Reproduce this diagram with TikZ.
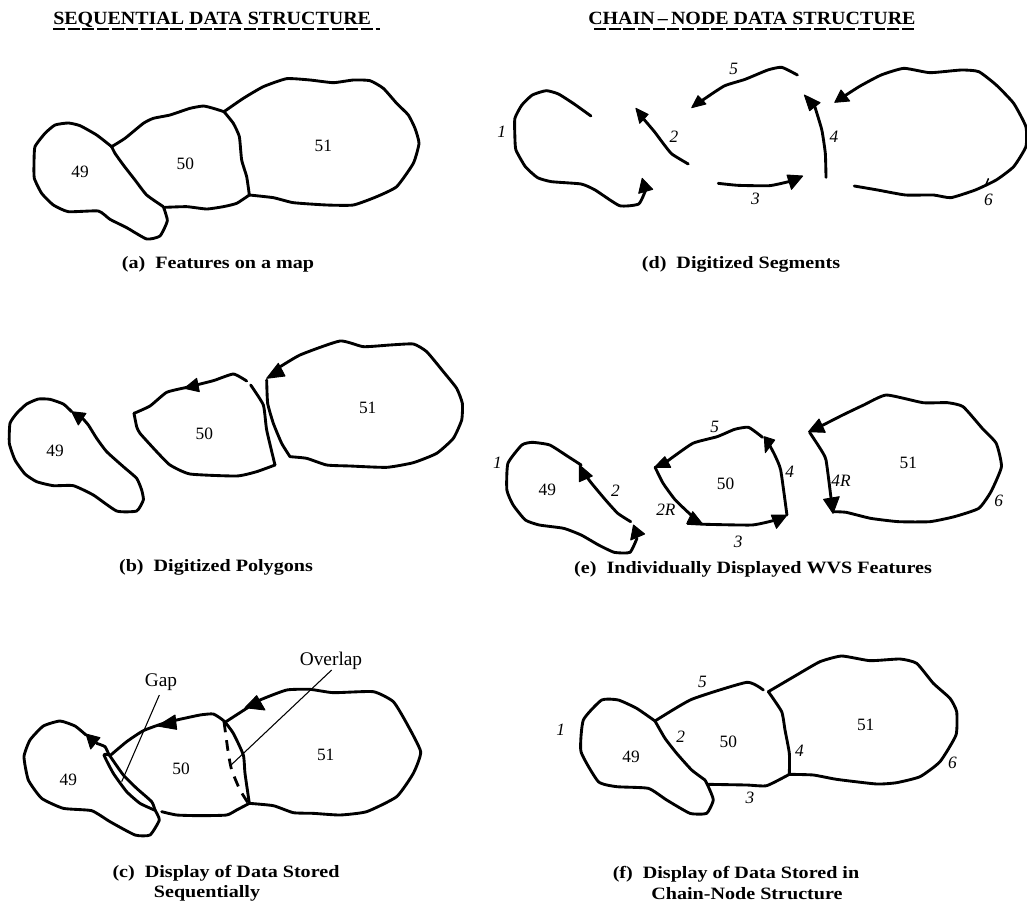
\documentclass[tikz,border=0pt]{standalone}
\usepackage{fontspec}
\setmainfont{Liberation Serif}
\newfontfamily\capfont[FakeStretch=1.16]{Liberation Serif}
\newfontfamily\headfont[FakeStretch=1.07]{Liberation Serif}
\tikzset{
  outline/.style={draw=black,line width=2.15pt,line join=round,line cap=round},
  thinlead/.style={draw=black,line width=0.8pt},
  overlapdash/.style={draw=black,line width=2.1pt,dash pattern=on 8pt off 6pt},
  num/.style={font=\fontsize{13}{14}\selectfont,inner sep=0pt},
  seg/.style={font=\fontsize{13}{14}\selectfont\itshape,inner sep=0pt},
  callout/.style={font=\fontsize{14.5}{15}\selectfont,inner sep=0pt},
  captxt/.style={font=\capfont\bfseries\fontsize{13}{14}\selectfont,inner sep=0pt},
  headtxt/.style={font=\headfont\bfseries\fontsize{14}{15}\selectfont,inner sep=0pt,anchor=base west}
}
\newcommand{\ol}[1]{\draw[outline] plot[smooth,tension=0.3] coordinates {#1};}
\newcommand{\head}[3]{\filldraw[black,line width=0.7pt,line join=round] #1 -- #2 -- #3 -- cycle;}
\begin{document}
\begin{tikzpicture}[x=0.75pt,y=-0.75pt]
\useasboundingbox (0,0) rectangle (1027,903);
% headings
\node[headtxt] (hl) at (53,24) {SEQUENTIAL DATA STRUCTURE};
\node[headtxt] (hr) at (588,24) {CHAIN\,–\,NODE DATA STRUCTURE};
\draw[line width=1.2pt,dash pattern=on 9pt off 2pt] (53,29) -- (380,29);
\draw[line width=1.2pt,dash pattern=on 9pt off 2pt] (594,29) -- (916,29);
% captions
\node[captxt] (ca) at (218,264) {(a)\ \ Features on a map};
\node[captxt] (cb) at (216,567) {(b)\ \ Digitized Polygons};
\node[captxt] (cc1) at (226,873) {(c)\ \ Display of Data Stored};
\node[captxt] (cc2) at (207,893) {Sequentially};
\node[captxt] (cd) at (741,264) {(d)\ \ Digitized Segments};
\node[captxt] (ce) at (753,569) {(e)\ \ Individually Displayed WVS Features};
\node[captxt] (cf1) at (736,874) {(f)\ \ Display of Data Stored in};
\node[captxt] (cf2) at (747,894) {Chain-Node Structure};

% (a)
\begin{scope}[shift={(0,30)},x=0.25pt,y=-0.25pt]
\ol{(335,350)(290,315)(240,287)(205,279)(165,285)(135,310)(105,350)(102,400)(103,445)(125,490)(160,525)(205,545)(295,543)(330,568)(380,593)(440,627)(480,618)(502,572)(490,530)}
\ol{(490,530)(440,495)(405,450)(370,405)(345,370)(335,350)}
\ol{(335,350)(375,325)(430,280)(460,265)(510,255)(570,235)(610,228)(640,235)(672,245)}
\ol{(672,245)(730,205)(790,170)(860,146)(930,150)(1000,158)(1060,150)(1110,152)(1150,175)(1190,220)(1225,255)(1245,295)(1257,340)(1240,400)(1190,470)(1130,500)(1060,525)(980,525)(880,518)(820,503)(748,495)}
\ol{(672,245)(700,280)(718,320)(725,390)(740,440)(748,495)}
\ol{(748,495)(710,520)(670,530)(620,537)(560,530)(495,532)}
\node[num] (a49) at (240,427) {49};
\node[num] (a50) at (556,402) {50};
\node[num] (a51) at (970,348) {51};
\end{scope}

% (b)
\begin{scope}[shift={(0,330)},x=0.25pt,y=-0.25pt]
\ol{(215,245)(190,222)(150,208)(115,207)(80,222)(50,250)(30,280)(28,340)(45,390)(75,432)(110,455)(160,467)(220,467)(280,495)(350,543)(410,543)(430,510)(425,480)(410,445)(370,410)(320,365)(290,325)(265,285)(245,262)}
\head{(215,245)}{(258,250)}{(235,285)}
\ol{(402,250)(450,228)(500,187)(560,172)(640,152)(700,132)(740,153)}
\ol{(752,165)(790,225)(800,300)(825,405)}
\ol{(825,405)(770,425)(710,438)(570,432)(510,405)(470,365)(420,310)(410,290)(402,250)}
\head{(553,175)}{(590,145)}{(598,185)}
\ol{(870,380)(845,340)(820,280)(803,220)(800,150)}
\ol{(825,120)(900,75)(1020,33)(1090,50)(1170,45)(1240,42)(1280,65)(1330,125)(1370,175)(1387,220)(1385,270)(1360,325)(1310,370)(1240,398)(1160,412)(1050,408)(980,405)(920,385)(870,380)}
\head{(800,145)}{(835,100)}{(855,138)}
\node[num] (b49) at (165,362) {49};
\node[num] (b50) at (613,310) {50};
\node[num] (b51) at (1103,235) {51};
\end{scope}

% (c)
\begin{scope}[shift={(0,640)},x=0.25pt,y=-0.25pt]
\ol{(258,285)(225,258)(180,243)(130,258)(90,300)(72,350)(85,420)(125,475)(190,505)(275,512)(330,545)(405,585)(450,585)(478,540)(465,510)}
\ol{(290,310)(315,320)(328,345)(370,405)(410,445)(455,485)(465,510)}
\ol{(328,345)(312,345)(340,400)(380,455)(420,490)(463,510)}
\head{(258,282)}{(300,293)}{(272,327)}
\ol{(330,347)(380,305)(430,272)(490,250)(530,240)(600,225)(640,222)(672,243)(700,280)(730,345)(735,400)(748,490)}
\ol{(748,490)(710,510)(680,525)(600,527)(530,525)(485,515)}
\head{(472,258)}{(525,225)}{(530,268)}
\draw[overlapdash] plot[smooth,tension=0.3] coordinates {(672,245)(685,340)(695,390)(720,450)(745,490)};
\ol{(678,245)(740,205)(780,180)(860,150)(930,148)(1000,158)(1120,155)(1180,185)(1220,250)(1262,335)(1240,400)(1190,470)(1100,515)(1020,525)(940,520)(880,518)(820,497)(748,490)}
\head{(735,203)}{(770,167)}{(795,210)}
\node[callout] (gap) at (483,125) {Gap};
\node[callout] (overlap) at (993,62) {Overlap};
\coordinate (gapend) at (365,425);
\coordinate (overlapend) at (690,378);
\draw[thinlead] (478,165) -- (gapend);
\draw[thinlead] (995,90) -- (overlapend);
\node[num] (c49) at (205,420) {49};
\node[num] (c50) at (543,387) {50};
\node[num] (c51) at (977,345) {51};
\end{scope}

% (d)
\begin{scope}[shift={(480,30)},x=0.2616pt,y=-0.25pt]
\ol{(318,258)(270,222)(225,192)(190,182)(150,195)(120,225)(100,265)(100,320)(103,360)(130,410)(165,443)(205,455)(290,462)(330,480)(400,527)(455,522)(475,480)}
\head{(465,445)}{(455,490)}{(495,478)}
\ol{(597,402)(550,372)(525,340)(500,305)(470,268)}
\head{(447,235)}{(482,253)}{(458,280)}
\ol{(683,460)(740,466)(830,467)(885,455)}
\head{(925,438)}{(880,435)}{(893,478)}
\ol{(992,442)(990,370)(980,300)(960,230)}
\head{(930,195)}{(975,218)}{(945,242)}
\ol{(910,135)(865,112)(825,120)(760,148)(700,168)(636,212)}
\head{(607,233)}{(625,197)}{(648,222)}
\ol{(1073,468)(1140,480)(1220,495)(1300,495)(1350,503)(1420,480)(1480,450)(1530,410)(1565,350)(1565,290)(1530,220)(1480,165)(1430,125)(1380,120)(1290,128)(1215,115)(1150,135)(1090,168)(1045,198)}
\head{(1017,217)}{(1035,180)}{(1060,213)}
\draw[line width=1.1pt] (1450,465) -- (1458,445);
\node[seg] (d1) at (62,305) {1};
\node[seg] (d5) at (727,118) {5};
\node[seg] (d2) at (556,320) {2};
\node[seg] (d4) at (1015,320) {4};
\node[seg] (d3) at (790,507) {3};
\node[seg] (d6) at (1458,510) {6};
\end{scope}

% (e)
\begin{scope}[shift={(480,380)},x=0.2616pt,y=-0.25pt]
\ol{(290,255)(250,228)(200,195)(150,187)(120,195)(80,250)(77,330)(95,375)(130,420)(170,435)(240,445)(290,465)(340,495)(385,517)(430,517)(450,475)}
\head{(440,435)}{(432,480)}{(472,462)}
\ol{(432,425)(395,400)(360,360)(320,310)(302,285)}
\head{(285,255)}{(285,305)}{(322,288)}
\ol{(502,262)(525,310)(560,360)(610,410)}
\head{(638,432)}{(610,395)}{(595,425)}
\ol{(595,430)(650,433)(780,435)(840,422)}
\head{(880,405)}{(835,405)}{(850,445)}
\ol{(880,405)(862,270)(845,225)(830,195)}
\head{(815,170)}{(845,180)}{(818,218)}
\ol{(810,172)(770,142)(730,148)(680,170)(610,190)(535,245)}
\head{(500,262)}{(530,230)}{(547,262)}
\ol{(1013,395)(1050,397)(1120,415)(1200,425)(1290,425)(1360,410)(1430,385)(1465,335)(1495,260)(1480,190)(1440,145)(1385,80)(1340,68)(1270,68)(1165,45)(1100,75)(1040,105)(980,137)}
\head{(942,155)}{(972,117)}{(990,157)}
\ol{(945,157)(975,205)(992,240)(1007,360)}
\head{(1012,400)}{(985,358)}{(1030,350)}
\node[seg] (e1) at (50,247) {1};
\node[seg] (e2) at (388,332) {2};
\node[num] (e49) at (193,330) {49};
\node[num] (e50) at (704,310) {50};
\node[seg] (e5) at (673,142) {5};
\node[seg] (e4) at (888,275) {4};
\node[seg] (e2R) at (533,388) {2R};
\node[seg] (e3) at (740,485) {3};
\node[num] (e51) at (1228,250) {51};
\node[seg] (e4R) at (1035,303) {4R};
\node[seg] (e6) at (1487,362) {6};
\end{scope}

% (f)
\begin{scope}[shift={(520,640)},x=0.25pt,y=-0.25pt]
\ol{(405,243)(350,205)(295,180)(245,180)(190,240)(183,335)(235,425)(290,440)(385,445)(440,480)(510,520)(560,520)(580,480)(565,440)(555,420)}
\ol{(555,420)(515,390)(470,340)(435,295)(405,243)}
\ol{(405,243)(515,178)(680,127)(730,150)}
\ol{(745,155)(830,105)(900,65)(965,48)(1050,62)(1140,57)(1190,70)(1240,130)(1290,175)(1310,215)(1308,285)(1260,365)(1200,410)(1130,428)(1070,432)(950,418)(880,405)(810,403)}
\ol{(745,155)(785,215)(795,270)(808,340)(808,403)}
\ol{(808,403)(740,437)(680,435)(565,433)}
\node[seg] (f1) at (122,268) {1};
\node[seg] (f5) at (547,125) {5};
\node[seg] (f2) at (482,290) {2};
\node[num] (f50) at (625,305) {50};
\node[num] (f49) at (333,350) {49};
\node[num] (f51) at (1037,255) {51};
\node[seg] (f4) at (838,333) {4};
\node[seg] (f3) at (690,475) {3};
\node[seg] (f6) at (1297,368) {6};
\end{scope}
\end{tikzpicture}
\end{document}
